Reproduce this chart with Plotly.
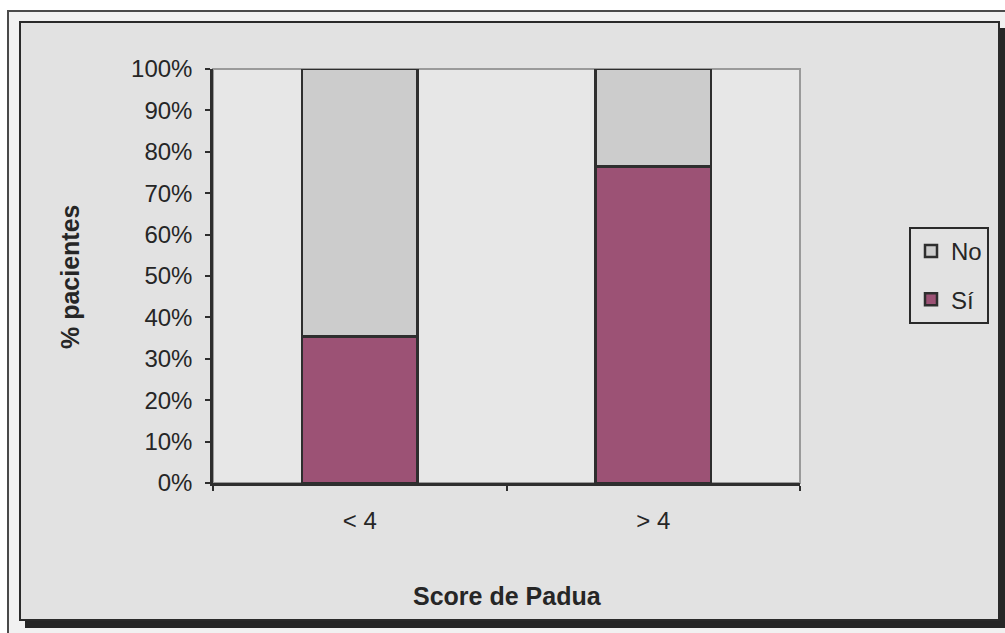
import plotly.graph_objects as go

# Share of patients by Padua score group
categories = ["< 4", "> 4"]
si_values = [35.4, 76.4]
no_values = [64.6, 23.6]
y_ticks = [0, 10, 20, 30, 40, 50, 60, 70, 80, 90, 100]
y_tick_labels = [f"{v}%" for v in y_ticks]

W, H = 1005, 633
L, R, T, B = 213, 800, 69, 483  # plot area in pixels


def px(x):
    return (x - L) / (R - L)


def py(y):
    return (B - y) / (B - T)


FONT = "Arial, Liberation Sans, sans-serif"
TXT = "#262626"

fig = go.Figure()
fig.add_trace(go.Bar(
    x=categories, y=si_values, name="Sí", width=0.395,
    marker=dict(color="#9c5275", line=dict(color="#2e2e2e", width=2.5)),
    legendgroup="si", legendrank=2,
))
fig.add_trace(go.Bar(
    x=categories, y=no_values, name="No", width=0.395,
    marker=dict(color="#cccccc", line=dict(color="#2e2e2e", width=2.5)),
    legendgroup="no", legendrank=1,
))

shapes = [
    # outer frame
    dict(type="rect", xref="paper", yref="paper", x0=px(8), x1=px(1012),
         y0=py(11), y1=py(645), fillcolor="#f1f1f1",
         line=dict(color="#4a4a4a", width=2), layer="below"),
    # drop shadow of the chart box
    dict(type="rect", xref="paper", yref="paper", x0=px(25), x1=px(1005),
         y0=py(28), y1=py(628), fillcolor="#262626",
         line=dict(width=0), layer="below"),
    # chart box
    dict(type="rect", xref="paper", yref="paper", x0=px(20), x1=px(999),
         y0=py(22), y1=py(620), fillcolor="#e2e2e2",
         line=dict(color="#2a2a2a", width=2), layer="below"),
    # plot area
    dict(type="rect", xref="paper", yref="paper", x0=0, x1=1, y0=0, y1=1,
         fillcolor="#e7e7e7", line=dict(color="#9a9a9a", width=2), layer="below"),
]

annotations = [
    dict(text="<b>Score de Padua</b>", xref="paper", yref="paper",
         x=px(508), y=py(596), showarrow=False,
         font=dict(family=FONT, size=25, color=TXT),
         xanchor="center", yanchor="middle"),
    dict(text="<b>% pacientes</b>", xref="paper", yref="paper",
         x=px(70), y=py(277), showarrow=False, textangle=-90,
         font=dict(family=FONT, size=25, color=TXT),
         xanchor="center", yanchor="middle"),
]

fig.update_layout(
    width=W, height=H,
    margin=dict(l=L, r=W - R, t=T, b=H - B, pad=0),
    paper_bgcolor="#ffffff",
    plot_bgcolor="rgba(0,0,0,0)",
    barmode="stack",
    bargap=0.6,
    font=dict(family=FONT, size=24, color=TXT),
    shapes=shapes,
    annotations=annotations,
    showlegend=True,
    legend=dict(
        x=px(909), y=py(227), xanchor="left", yanchor="top",
        bgcolor="#e2e2e2", bordercolor="#2a2a2a", borderwidth=2,
        traceorder="grouped", tracegroupgap=14,
        font=dict(family=FONT, size=24, color=TXT),
        itemwidth=30,
    ),
    xaxis=dict(
        type="category", showgrid=False, zeroline=False,
        showline=True, linecolor="#2e2e2e", linewidth=2.5,
        ticks="outside", tickson="boundaries", ticklen=5,
        tickcolor="#2e2e2e", tickwidth=2,
        ticklabelstandoff=14,
        tickfont=dict(family=FONT, size=24, color=TXT),
    ),
    yaxis=dict(
        range=[0, 100], tickmode="array", tickvals=y_ticks, ticktext=y_tick_labels,
        showgrid=False, zeroline=False,
        showline=True, linecolor="#2e2e2e", linewidth=2.5,
        ticks="outside", ticklen=5, tickcolor="#2e2e2e", tickwidth=2,
        ticklabelstandoff=8,
        tickfont=dict(family=FONT, size=24, color=TXT),
    ),
)

fig.write_html("out.html")
